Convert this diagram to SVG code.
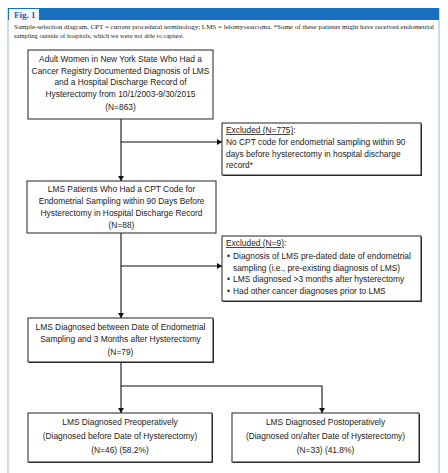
<svg xmlns="http://www.w3.org/2000/svg" width="448" height="473" viewBox="0 0 448 473">
<style>
.bg{fill:#ffffff}
.box{fill:#ffffff;stroke:#222;stroke-width:1}
.sh{fill:#333}
.t{font-family:"Liberation Sans",Arial,sans-serif;font-size:8.4px;fill:#222}
.c{text-anchor:middle}
.u{text-decoration:underline}
.cap{font-family:"Liberation Serif","Times New Roman",serif;font-size:6.5px;fill:#222}
.ln{stroke:#111;stroke-width:1.1;fill:none}
</style>
<defs>
<marker id="ah" markerWidth="6" markerHeight="6" refX="5" refY="3" orient="auto" markerUnits="userSpaceOnUse">
<path d="M0,0 L5,3 L0,6 z" fill="#111"/>
</marker>
</defs>
<rect class="bg" x="0" y="0" width="448" height="473"/>
<g id="frame">
<line x1="8" y1="8" x2="8" y2="473" stroke="#b9d3ee" stroke-width="1.5"/>
<line x1="439" y1="8" x2="439" y2="473" stroke="#b9d3ee" stroke-width="1.5"/>
<rect x="8" y="8" width="431" height="12" fill="#1b6fc0"/>
<rect x="9" y="9" width="30" height="11" fill="#f4f8fc"/>
<text x="14" y="18" font-family="Liberation Serif,serif" font-weight="bold" font-size="9px" fill="#1d5fae">Fig. 1</text>
<text class="cap" x="14" y="29" textLength="420" lengthAdjust="spacingAndGlyphs">Sample-selection diagram. CPT = current procedural terminology; LMS = leiomyosarcoma. *Some of these patients might have received endometrial</text>
<text class="cap" x="14" y="38">sampling outside of hospitals, which we were not able to capture.</text>
</g>
<g id="connectors">
<line class="ln" x1="121" y1="119" x2="121" y2="181" marker-end="url(#ah)"/>
<line class="ln" x1="121" y1="142" x2="222" y2="142" marker-end="url(#ah)"/>
<line class="ln" x1="121" y1="233" x2="121" y2="318" marker-end="url(#ah)"/>
<line class="ln" x1="121" y1="266" x2="222" y2="266" marker-end="url(#ah)"/>
<line class="ln" x1="121" y1="362" x2="121" y2="413" marker-end="url(#ah)"/>
<polyline class="ln" points="121,386 322,386 322,413" marker-end="url(#ah)"/>
</g>
<g id="n1">
<rect class="box" x="28" y="50" width="185" height="69"/>
<text class="t c" x="120.5" y="62">Adult Women in New York State Who Had a</text>
<text class="t c" x="120.5" y="73.5">Cancer Registry Documented Diagnosis of LMS</text>
<text class="t c" x="120.5" y="85">and a Hospital Discharge Record of</text>
<text class="t c" x="120.5" y="96.5">Hysterectomy from 10/1/2003-9/30/2015</text>
<text class="t c" x="120.5" y="110">(N=863)</text>
</g>
<g id="ex1">
<rect class="sh" x="223" y="124" width="199" height="52"/>
<rect class="box" x="222" y="123" width="199" height="52"/>
<text class="t" x="226" y="133"><tspan class="u">Excluded (N=775)</tspan>:</text>
<text class="t" x="226" y="145">No CPT code for endometrial sampling within 90</text>
<text class="t" x="226" y="156.5">days before hysterectomy in hospital discharge</text>
<text class="t" x="226" y="168">record*</text>
</g>
<g id="n2">
<rect class="box" x="27" y="181" width="189" height="52"/>
<text class="t c" x="121.5" y="192">LMS Patients Who Had a CPT Code for</text>
<text class="t c" x="121.5" y="204">Endometrial Sampling within 90 Days Before</text>
<text class="t c" x="121.5" y="215.5">Hysterectomy in Hospital Discharge Record</text>
<text class="t c" x="121.5" y="228">(N=88)</text>
</g>
<g id="ex2">
<rect class="sh" x="223" y="237" width="199" height="65"/>
<rect class="box" x="222" y="236" width="199" height="65"/>
<text class="t" x="226" y="246"><tspan class="u">Excluded (N=9)</tspan>:</text>
<text class="t" x="227" y="259">•</text>
<text class="t" x="233" y="259">Diagnosis of LMS pre-dated date of endometrial</text>
<text class="t" x="233" y="270.5">sampling (i.e., pre-existing diagnosis of LMS)</text>
<text class="t" x="227" y="282">•</text>
<text class="t" x="233" y="282">LMS diagnosed &gt;3 months after hysterectomy</text>
<text class="t" x="227" y="293.5">•</text>
<text class="t" x="233" y="293.5">Had other cancer diagnoses prior to LMS</text>
</g>
<g id="n3">
<rect class="sh" x="29" y="319" width="185" height="44"/>
<rect class="box" x="28" y="318" width="185" height="44"/>
<text class="t c" x="120.5" y="329.5">LMS Diagnosed between Date of Endometrial</text>
<text class="t c" x="120.5" y="341.5">Sampling and 3 Months after Hysterectomy</text>
<text class="t c" x="120.5" y="355">(N=79)</text>
</g>
<g id="n4">
<rect class="sh" x="29" y="414" width="184" height="49"/>
<rect class="box" x="28" y="413" width="184" height="49"/>
<text class="t c" x="120" y="425">LMS Diagnosed Preoperatively</text>
<text class="t c" x="120" y="439">(Diagnosed before Date of Hysterectomy)</text>
<text class="t c" x="120" y="453">(N=46) (58.2%)</text>
</g>
<g id="n5">
<rect class="sh" x="233" y="414" width="187" height="49"/>
<rect class="box" x="232" y="413" width="187" height="49"/>
<text class="t c" x="325.5" y="425">LMS Diagnosed Postoperatively</text>
<text class="t c" x="325.5" y="439">(Diagnosed on/after Date of Hysterectomy)</text>
<text class="t c" x="325.5" y="453">(N=33) (41.8%)</text>
</g>
</svg>
